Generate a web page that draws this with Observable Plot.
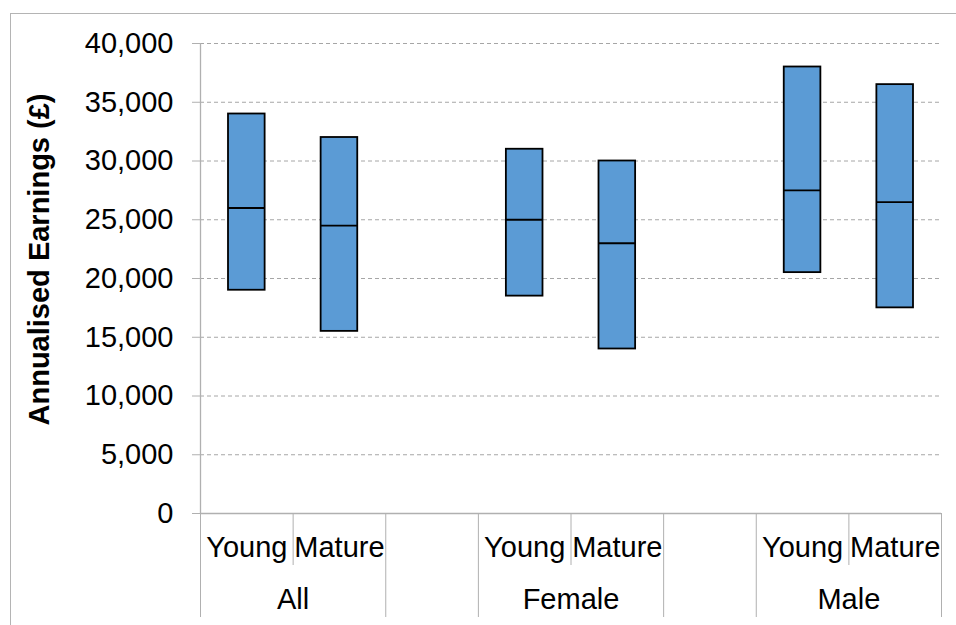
<!DOCTYPE html>
<html>
<head>
<meta charset="utf-8">
<script src="https://cdn.jsdelivr.net/npm/d3@7"></script>
<script src="https://cdn.jsdelivr.net/npm/@observablehq/plot@0.6"></script>
<style>
  html, body { margin: 0; padding: 0; background: #fff; }
  #wrap { position: relative; width: 956px; height: 625px; overflow: hidden; font-family: "Liberation Sans", Arial, sans-serif; }
  #border { position: absolute; left: 10px; top: 13px; width: 980px; height: 700px; border: 1px solid #b4b4b4; box-sizing: border-box; }
  #chart { position: absolute; left: 0; top: 0; }
</style>
</head>
<body>
<div id="wrap"><div id="border"></div><div id="chart"></div></div>
<script>
const groups = ["All", "Female", "Male"];
const ages = ["Young", "Mature"];
// order: All-Young, All-Mature, Female-Young, Female-Mature, Male-Young, Male-Mature
const lower = [19000, 15500, 18500, 14000, 20500, 17500];
const median = [26000, 24500, 25000, 23000, 27500, 26500];
const upper = [34000, 32000, 31000, 30000, 38000, 36500];
const yTicks = [0, 5000, 10000, 15000, 20000, 25000, 30000, 35000, 40000];
const yTitle = "Annualised Earnings (£)";

const slotsPerGroup = ages.length + 1; // one blank slot between groups
const rows = [];
groups.forEach((g, gi) => ages.forEach((a, ai) => {
  const k = gi * ages.length + ai;
  rows.push({group: g, age: a, slot: gi * slotsPerGroup + ai, lo: lower[k], mid: median[k], hi: upper[k]});
}));
const groupRows = groups.map((g, gi) => ({group: g, start: gi * slotsPerGroup, end: gi * slotsPerGroup + ages.length}));
const fullBounds = groupRows.flatMap(d => [d.start, d.end]);
const innerBounds = groupRows.flatMap(d => d3.range(d.start + 1, d.end));
const nSlots = groups.length * slotsPerGroup - 1;

const W = 956, H = 625, mT = 43, mB = 112;
const frameH = H - mT - mB;
const axisGray = "#b0b0b0";
const gridGray = "#a6a6a6";
const fs = 29;

const chart = Plot.plot({
  width: W,
  height: H,
  marginLeft: 200,
  marginRight: 15,
  marginTop: mT,
  marginBottom: mB,
  style: {fontFamily: "'Liberation Sans', Arial, sans-serif", fontSize: fs + "px", color: "#000", background: "transparent"},
  x: {type: "linear", domain: [0, nSlots], axis: null},
  y: {domain: [0, 40000], axis: null},
  marks: [
    Plot.gridY(yTicks.filter(d => d > 0), {stroke: gridGray, strokeOpacity: 1, strokeDasharray: "4,3", strokeWidth: 1}),
    Plot.ruleX([0], {stroke: axisGray, strokeWidth: 1.3}),
    Plot.ruleY([0], {stroke: axisGray, strokeWidth: 1.3}),
    Plot.axisY(yTicks, {tickSize: 8, tickPadding: 19, tickFormat: d3.format(","), stroke: axisGray, fontSize: fs, label: null}),
    Plot.ruleX(fullBounds, {insetTop: frameH, insetBottom: -104, stroke: axisGray, strokeWidth: 1}),
    Plot.ruleX(innerBounds, {insetTop: frameH, insetBottom: -52, stroke: axisGray, strokeWidth: 1}),
    Plot.rectY(rows, {x1: "slot", x2: d => d.slot + 1, y1: "lo", y2: "hi", fill: "#5B9BD5", stroke: "#000", strokeWidth: 1.8, insetLeft: 28, insetRight: 28}),
    Plot.ruleY(rows, {y: "mid", x1: "slot", x2: d => d.slot + 1, insetLeft: 28, insetRight: 28, stroke: "#000", strokeWidth: 1.8}),
    Plot.text(rows, {x: d => d.slot + 0.5, text: "age", frameAnchor: "bottom", lineAnchor: "top", dy: 23, fontSize: fs, fill: "#000"}),
    Plot.text(groupRows, {x: d => (d.start + d.end) / 2, text: "group", frameAnchor: "bottom", lineAnchor: "top", dy: 75, fontSize: fs, fill: "#000"}),
    Plot.text([yTitle], {frameAnchor: "left", textAnchor: "middle", lineAnchor: "middle", rotate: -90, dx: -161, dy: -19, fontWeight: "bold", fontSize: fs, fill: "#000"})
  ]
});
document.getElementById("chart").appendChild(chart);
</script>
</body>
</html>
